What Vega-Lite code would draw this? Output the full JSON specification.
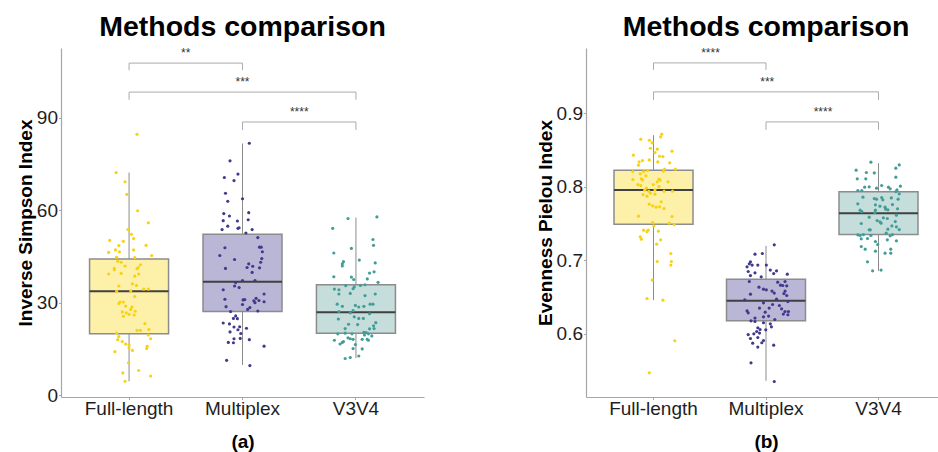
{
"$schema": "https://vega.github.io/schema/vega-lite/v6.json",
"padding": {"left": 16, "top": 12, "right": 0, "bottom": 0},
"spacing": 112,
"config": {
 "font": "Liberation Sans",
 "view": {"stroke": null},
 "axis": {"grid": false, "domainColor": "#a6a6a6", "domainWidth": 1.2, "tickColor": "#a6a6a6", "tickSize": 2.5, "labelFontSize": 19, "labelColor": "#1e1e1e", "labelFont": "Liberation Sans", "titleFont": "Liberation Sans", "titleFontSize": 19, "titleFontWeight": "bold", "titleColor": "#000000", "labelPadding": 1},
 "axisX": {"labelAngle": 0, "titlePadding": 14, "labelPadding": 0},
 "axisY": {"titlePadding": 1},
 "title": {"fontSize": 28.5, "fontWeight": "bold", "font": "Liberation Sans", "color": "#000000", "anchor": "middle", "offset": 5.5, "baseline": "alphabetic"}
},
"datasets": {
 "invbox": [
  {"m": "Full-length", "lo": 4.6, "q1": 20.0, "med": 33.8, "q3": 44.3, "hi": 72.3},
  {"m": "Multiplex", "lo": 9.9, "q1": 27.2, "med": 36.9, "q3": 52.3, "hi": 81.7},
  {"m": "V3V4", "lo": 12.1, "q1": 20.2, "med": 27.0, "q3": 35.9, "hi": 57.7}
 ],
 "evenbox": [
  {"m": "Full-length", "lo": 0.6458, "q1": 0.7492, "med": 0.7959, "q3": 0.8227, "hi": 0.8703},
  {"m": "Multiplex", "lo": 0.536, "q1": 0.6177, "med": 0.6449, "q3": 0.6744, "hi": 0.7197},
  {"m": "V3V4", "lo": 0.6857, "q1": 0.7351, "med": 0.7642, "q3": 0.7932, "hi": 0.8322}
 ],
 "invbr": [
  {"g1": "Full-length", "g2": "Multiplex", "yt": 107.8, "yb": 105.5, "lab": "**", "mid": 0.5},
  {"g1": "Full-length", "g2": "V3V4", "yt": 98.4, "yb": 95.9, "lab": "***", "mid": 1.0},
  {"g1": "Multiplex", "g2": "V3V4", "yt": 88.7, "yb": 86.1, "lab": "****", "mid": 0.5}
 ],
 "evenbr": [
  {"g1": "Full-length", "g2": "Multiplex", "yt": 0.9687, "yb": 0.9592, "lab": "****", "mid": 0.5},
  {"g1": "Full-length", "g2": "V3V4", "yt": 0.9293, "yb": 0.9184, "lab": "***", "mid": 1.0},
  {"g1": "Multiplex", "g2": "V3V4", "yt": 0.8884, "yb": 0.8776, "lab": "****", "mid": 0.5}
 ],
 "inv": [
  {"m":"Full-length","v":84.7,"j":0.07},{"m":"Full-length","v":72.3,"j":-0.114},{"m":"Full-length","v":69.3,"j":-0.035},{"m":"Full-length","v":65.2,"j":-0.02},{"m":"Full-length","v":59.9,"j":0.076},{"m":"Full-length","v":56.0,"j":0.17},{"m":"Full-length","v":53.8,"j":-0.01},{"m":"Full-length","v":52.3,"j":0.02},{"m":"Full-length","v":50.9,"j":0.04},{"m":"Full-length","v":50.3,"j":-0.17},{"m":"Full-length","v":50.0,"j":-0.05},{"m":"Full-length","v":48.6,"j":-0.09},{"m":"Full-length","v":48.7,"j":0.15},{"m":"Full-length","v":47.2,"j":-0.12},{"m":"Full-length","v":46.6,"j":-0.085},{"m":"Full-length","v":47.2,"j":0.04},{"m":"Full-length","v":46.4,"j":-0.18},{"m":"Full-length","v":45.4,"j":0.2},{"m":"Full-length","v":44.8,"j":-0.11},{"m":"Full-length","v":44.7,"j":0.05},{"m":"Full-length","v":43.5,"j":-0.1},{"m":"Full-length","v":43.2,"j":-0.07},{"m":"Full-length","v":41.2,"j":-0.13},{"m":"Full-length","v":42.0,"j":-0.035},{"m":"Full-length","v":42.4,"j":0.1},{"m":"Full-length","v":41.5,"j":0.08},{"m":"Full-length","v":41.1,"j":0.07},{"m":"Full-length","v":40.7,"j":-0.13},{"m":"Full-length","v":39.4,"j":-0.18},{"m":"Full-length","v":39.6,"j":-0.07},{"m":"Full-length","v":39.4,"j":0.085},{"m":"Full-length","v":38.7,"j":0.05},{"m":"Full-length","v":36.2,"j":0.03},{"m":"Full-length","v":35.7,"j":0.065},{"m":"Full-length","v":35.5,"j":-0.09},{"m":"Full-length","v":34.5,"j":0.13},{"m":"Full-length","v":34.5,"j":0.17},{"m":"Full-length","v":33.8,"j":-0.11},{"m":"Full-length","v":33.9,"j":0.015},{"m":"Full-length","v":32.1,"j":0.05},{"m":"Full-length","v":30.3,"j":-0.08},{"m":"Full-length","v":29.8,"j":-0.09},{"m":"Full-length","v":30.3,"j":-0.05},{"m":"Full-length","v":29.0,"j":-0.03},{"m":"Full-length","v":28.7,"j":0.025},{"m":"Full-length","v":27.9,"j":0.015},{"m":"Full-length","v":27.3,"j":0.055},{"m":"Full-length","v":27.1,"j":-0.06},{"m":"Full-length","v":26.8,"j":-0.025},{"m":"Full-length","v":26.3,"j":0},{"m":"Full-length","v":26.1,"j":0.045},{"m":"Full-length","v":25.7,"j":-0.05},{"m":"Full-length","v":23.3,"j":0.14},{"m":"Full-length","v":21.1,"j":0.07},{"m":"Full-length","v":21.1,"j":0.1},{"m":"Full-length","v":21.4,"j":0.175},{"m":"Full-length","v":20.2,"j":-0.11},{"m":"Full-length","v":19.1,"j":-0.09},{"m":"Full-length","v":19.6,"j":0.17},{"m":"Full-length","v":18.1,"j":-0.1},{"m":"Full-length","v":18.4,"j":0.19},{"m":"Full-length","v":17.5,"j":-0.06},{"m":"Full-length","v":16.7,"j":-0.03},{"m":"Full-length","v":16.3,"j":0},{"m":"Full-length","v":15.4,"j":0},{"m":"Full-length","v":15.9,"j":0.16},{"m":"Full-length","v":15.2,"j":0.155},{"m":"Full-length","v":14.6,"j":0.03},{"m":"Full-length","v":14.2,"j":-0.125},{"m":"Full-length","v":10.6,"j":-0.005},{"m":"Full-length","v":7.3,"j":-0.055},{"m":"Full-length","v":8.1,"j":0.085},{"m":"Full-length","v":6.3,"j":0.19},{"m":"Full-length","v":4.6,"j":-0.035},
  {"m":"Multiplex","v":81.8,"j":0.06},{"m":"Multiplex","v":76.1,"j":-0.11},{"m":"Multiplex","v":70.7,"j":-0.16},{"m":"Multiplex","v":71.8,"j":-0.04},{"m":"Multiplex","v":69.7,"j":-0.075},{"m":"Multiplex","v":65.6,"j":-0.15},{"m":"Multiplex","v":63.8,"j":0},{"m":"Multiplex","v":63.0,"j":-0.13},{"m":"Multiplex","v":59.0,"j":-0.165},{"m":"Multiplex","v":59.3,"j":0.055},{"m":"Multiplex","v":58.2,"j":-0.115},{"m":"Multiplex","v":56.7,"j":-0.17},{"m":"Multiplex","v":56.6,"j":-0.045},{"m":"Multiplex","v":57.0,"j":0.05},{"m":"Multiplex","v":54.9,"j":-0.13},{"m":"Multiplex","v":53.8,"j":-0.18},{"m":"Multiplex","v":54.2,"j":-0.04},{"m":"Multiplex","v":54.4,"j":-0.03},{"m":"Multiplex","v":53.8,"j":0.085},{"m":"Multiplex","v":52.7,"j":0.03},{"m":"Multiplex","v":51.2,"j":0.135},{"m":"Multiplex","v":48.1,"j":0.15},{"m":"Multiplex","v":48.1,"j":0.165},{"m":"Multiplex","v":47.9,"j":-0.155},{"m":"Multiplex","v":46.6,"j":0.175},{"m":"Multiplex","v":45.4,"j":-0.2},{"m":"Multiplex","v":44.4,"j":0.17},{"m":"Multiplex","v":44.1,"j":-0.07},{"m":"Multiplex","v":42.7,"j":0.055},{"m":"Multiplex","v":43.2,"j":0.16},{"m":"Multiplex","v":41.9,"j":0.09},{"m":"Multiplex","v":41.5,"j":0.04},{"m":"Multiplex","v":41.4,"j":0.15},{"m":"Multiplex","v":41.2,"j":-0.15},{"m":"Multiplex","v":39.9,"j":0.085},{"m":"Multiplex","v":37.3,"j":0},{"m":"Multiplex","v":37.3,"j":0.11},{"m":"Multiplex","v":36.6,"j":-0.06},{"m":"Multiplex","v":35.5,"j":-0.07},{"m":"Multiplex","v":35.0,"j":-0.03},{"m":"Multiplex","v":34.3,"j":-0.17},{"m":"Multiplex","v":32.9,"j":0.19},{"m":"Multiplex","v":31.2,"j":-0.155},{"m":"Multiplex","v":31.0,"j":0.005},{"m":"Multiplex","v":31.1,"j":0.02},{"m":"Multiplex","v":31.5,"j":0.12},{"m":"Multiplex","v":30.7,"j":0.1},{"m":"Multiplex","v":30.8,"j":0.145},{"m":"Multiplex","v":30.4,"j":0.19},{"m":"Multiplex","v":30.1,"j":0.11},{"m":"Multiplex","v":29.5,"j":0},{"m":"Multiplex","v":28.5,"j":0.065},{"m":"Multiplex","v":28.8,"j":-0.145},{"m":"Multiplex","v":27.9,"j":0.045},{"m":"Multiplex","v":27.4,"j":0.135},{"m":"Multiplex","v":27.2,"j":-0.105},{"m":"Multiplex","v":25.8,"j":-0.06},{"m":"Multiplex","v":25.0,"j":-0.08},{"m":"Multiplex","v":24.9,"j":-0.045},{"m":"Multiplex","v":23.5,"j":-0.17},{"m":"Multiplex","v":23.2,"j":-0.115},{"m":"Multiplex","v":22.2,"j":-0.075},{"m":"Multiplex","v":22.3,"j":-0.025},{"m":"Multiplex","v":21.8,"j":0.035},{"m":"Multiplex","v":21.3,"j":-0.04},{"m":"Multiplex","v":20.6,"j":-0.11},{"m":"Multiplex","v":20.1,"j":-0.015},{"m":"Multiplex","v":18.4,"j":-0.075},{"m":"Multiplex","v":18.5,"j":-0.02},{"m":"Multiplex","v":18.1,"j":0.06},{"m":"Multiplex","v":17.2,"j":-0.125},{"m":"Multiplex","v":17.1,"j":-0.08},{"m":"Multiplex","v":16.0,"j":0.19},{"m":"Multiplex","v":11.4,"j":-0.14},{"m":"Multiplex","v":9.7,"j":0.065},
  {"m":"V3V4","v":57.4,"j":-0.07},{"m":"V3V4","v":57.9,"j":0.185},{"m":"V3V4","v":54.2,"j":-0.205},{"m":"V3V4","v":50.6,"j":0.15},{"m":"V3V4","v":48.7,"j":0.155},{"m":"V3V4","v":47.7,"j":-0.04},{"m":"V3V4","v":46.2,"j":-0.195},{"m":"V3V4","v":43.9,"j":0.03},{"m":"V3V4","v":43.4,"j":-0.11},{"m":"V3V4","v":42.7,"j":-0.12},{"m":"V3V4","v":42.0,"j":-0.12},{"m":"V3V4","v":43.0,"j":0.17},{"m":"V3V4","v":40.1,"j":0.16},{"m":"V3V4","v":39.7,"j":0.12},{"m":"V3V4","v":38.5,"j":-0.195},{"m":"V3V4","v":38.4,"j":-0.04},{"m":"V3V4","v":37.6,"j":-0.02},{"m":"V3V4","v":37.8,"j":0.1},{"m":"V3V4","v":36.7,"j":0.195},{"m":"V3V4","v":35.6,"j":-0.09},{"m":"V3V4","v":35.2,"j":-0.015},{"m":"V3V4","v":35.7,"j":0.04},{"m":"V3V4","v":35.9,"j":0.08},{"m":"V3V4","v":34.5,"j":-0.19},{"m":"V3V4","v":34.3,"j":-0.15},{"m":"V3V4","v":34.6,"j":-0.025},{"m":"V3V4","v":32.9,"j":-0.15},{"m":"V3V4","v":33.1,"j":-0.05},{"m":"V3V4","v":32.9,"j":0.17},{"m":"V3V4","v":32.4,"j":0.08},{"m":"V3V4","v":29.6,"j":-0.165},{"m":"V3V4","v":28.9,"j":-0.12},{"m":"V3V4","v":29.2,"j":-0.005},{"m":"V3V4","v":29.6,"j":0.125},{"m":"V3V4","v":29.6,"j":0.15},{"m":"V3V4","v":28.9,"j":0.07},{"m":"V3V4","v":28.7,"j":0.025},{"m":"V3V4","v":27.5,"j":-0.025},{"m":"V3V4","v":27.2,"j":-0.15},{"m":"V3V4","v":26.5,"j":0.12},{"m":"V3V4","v":26.8,"j":-0.05},{"m":"V3V4","v":25.5,"j":-0.015},{"m":"V3V4","v":25.0,"j":0.025},{"m":"V3V4","v":25.0,"j":0.065},{"m":"V3V4","v":24.8,"j":-0.155},{"m":"V3V4","v":23.6,"j":0.175},{"m":"V3V4","v":23.1,"j":-0.065},{"m":"V3V4","v":23.0,"j":0.015},{"m":"V3V4","v":22.6,"j":0.155},{"m":"V3V4","v":21.7,"j":-0.095},{"m":"V3V4","v":21.6,"j":0.12},{"m":"V3V4","v":21.7,"j":0.16},{"m":"V3V4","v":20.5,"j":0.07},{"m":"V3V4","v":20.4,"j":0.09},{"m":"V3V4","v":20.0,"j":0.11},{"m":"V3V4","v":20.2,"j":-0.095},{"m":"V3V4","v":20.0,"j":-0.035},{"m":"V3V4","v":20.0,"j":-0.16},{"m":"V3V4","v":19.6,"j":0.075},{"m":"V3V4","v":18.7,"j":-0.07},{"m":"V3V4","v":19.3,"j":0.14},{"m":"V3V4","v":18.4,"j":-0.05},{"m":"V3V4","v":18.2,"j":-0.025},{"m":"V3V4","v":17.9,"j":-0.19},{"m":"V3V4","v":17.9,"j":0.11},{"m":"V3V4","v":18.2,"j":0.055},{"m":"V3V4","v":17.5,"j":-0.11},{"m":"V3V4","v":17.2,"j":-0.12},{"m":"V3V4","v":16.7,"j":-0.14},{"m":"V3V4","v":16.5,"j":-0.005},{"m":"V3V4","v":18.2,"j":0.1},{"m":"V3V4","v":15.2,"j":-0.025},{"m":"V3V4","v":15.1,"j":0.055},{"m":"V3V4","v":12.8,"j":0.025},{"m":"V3V4","v":12.3,"j":-0.05},{"m":"V3V4","v":12.0,"j":-0.095}
 ],
 "even": [
  {"m":"Full-length","v":0.8717,"j":0.07},{"m":"Full-length","v":0.868,"j":0.06},{"m":"Full-length","v":0.8649,"j":-0.115},{"m":"Full-length","v":0.8635,"j":-0.04},{"m":"Full-length","v":0.8599,"j":-0.015},{"m":"Full-length","v":0.8526,"j":-0.03},{"m":"Full-length","v":0.8513,"j":0.03},{"m":"Full-length","v":0.8486,"j":0.16},{"m":"Full-length","v":0.8467,"j":0.01},{"m":"Full-length","v":0.8431,"j":-0.18},{"m":"Full-length","v":0.8417,"j":0.05},{"m":"Full-length","v":0.8412,"j":0.08},{"m":"Full-length","v":0.8358,"j":-0.1},{"m":"Full-length","v":0.8367,"j":-0.04},{"m":"Full-length","v":0.834,"j":-0.13},{"m":"Full-length","v":0.8295,"j":-0.135},{"m":"Full-length","v":0.834,"j":0.035},{"m":"Full-length","v":0.8327,"j":0.14},{"m":"Full-length","v":0.8241,"j":0.095},{"m":"Full-length","v":0.8241,"j":0.19},{"m":"Full-length","v":0.8222,"j":-0.055},{"m":"Full-length","v":0.8209,"j":-0.185},{"m":"Full-length","v":0.8209,"j":-0.09},{"m":"Full-length","v":0.8177,"j":-0.12},{"m":"Full-length","v":0.8214,"j":0.085},{"m":"Full-length","v":0.815,"j":-0.07},{"m":"Full-length","v":0.8109,"j":-0.11},{"m":"Full-length","v":0.8095,"j":-0.1},{"m":"Full-length","v":0.8099,"j":-0.185},{"m":"Full-length","v":0.8105,"j":0.045},{"m":"Full-length","v":0.8091,"j":0.055},{"m":"Full-length","v":0.8068,"j":0.03},{"m":"Full-length","v":0.8068,"j":0.125},{"m":"Full-length","v":0.8031,"j":-0.14},{"m":"Full-length","v":0.8018,"j":-0.115},{"m":"Full-length","v":0.7982,"j":-0.065},{"m":"Full-length","v":0.8004,"j":0.045},{"m":"Full-length","v":0.8031,"j":-0.005},{"m":"Full-length","v":0.7955,"j":-0.08},{"m":"Full-length","v":0.7941,"j":-0.045},{"m":"Full-length","v":0.7959,"j":0.01},{"m":"Full-length","v":0.7941,"j":0.09},{"m":"Full-length","v":0.7941,"j":0.165},{"m":"Full-length","v":0.7895,"j":-0.095},{"m":"Full-length","v":0.7873,"j":-0.06},{"m":"Full-length","v":0.7901,"j":0.01},{"m":"Full-length","v":0.7914,"j":-0.03},{"m":"Full-length","v":0.7796,"j":0.065},{"m":"Full-length","v":0.7765,"j":-0.04},{"m":"Full-length","v":0.7741,"j":-0.01},{"m":"Full-length","v":0.7724,"j":0.02},{"m":"Full-length","v":0.7728,"j":0.05},{"m":"Full-length","v":0.7705,"j":0.09},{"m":"Full-length","v":0.7601,"j":-0.135},{"m":"Full-length","v":0.7596,"j":0.16},{"m":"Full-length","v":0.7514,"j":-0.01},{"m":"Full-length","v":0.7506,"j":0.135},{"m":"Full-length","v":0.7487,"j":0.18},{"m":"Full-length","v":0.7469,"j":0},{"m":"Full-length","v":0.7411,"j":-0.09},{"m":"Full-length","v":0.7411,"j":-0.05},{"m":"Full-length","v":0.7388,"j":-0.06},{"m":"Full-length","v":0.7397,"j":0.04},{"m":"Full-length","v":0.732,"j":-0.12},{"m":"Full-length","v":0.7288,"j":-0.11},{"m":"Full-length","v":0.7279,"j":0.06},{"m":"Full-length","v":0.722,"j":0.025},{"m":"Full-length","v":0.7093,"j":0.15},{"m":"Full-length","v":0.6984,"j":0.155},{"m":"Full-length","v":0.6984,"j":0.03},{"m":"Full-length","v":0.6935,"j":0.15},{"m":"Full-length","v":0.6731,"j":-0.015},{"m":"Full-length","v":0.648,"j":-0.06},{"m":"Full-length","v":0.6458,"j":0.08},{"m":"Full-length","v":0.5905,"j":0.185},{"m":"Full-length","v":0.5469,"j":-0.04},
  {"m":"Multiplex","v":0.7211,"j":0.07},{"m":"Multiplex","v":0.7084,"j":-0.1},{"m":"Multiplex","v":0.7093,"j":-0.035},{"m":"Multiplex","v":0.698,"j":-0.14},{"m":"Multiplex","v":0.6952,"j":-0.15},{"m":"Multiplex","v":0.6935,"j":-0.125},{"m":"Multiplex","v":0.6912,"j":-0.17},{"m":"Multiplex","v":0.6935,"j":-0.075},{"m":"Multiplex","v":0.6935,"j":0},{"m":"Multiplex","v":0.6867,"j":0.035},{"m":"Multiplex","v":0.6857,"j":0.09},{"m":"Multiplex","v":0.6848,"j":-0.16},{"m":"Multiplex","v":0.683,"j":-0.1},{"m":"Multiplex","v":0.682,"j":0.065},{"m":"Multiplex","v":0.6812,"j":0.185},{"m":"Multiplex","v":0.6793,"j":-0.14},{"m":"Multiplex","v":0.6776,"j":-0.045},{"m":"Multiplex","v":0.6712,"j":-0.15},{"m":"Multiplex","v":0.6703,"j":0.1},{"m":"Multiplex","v":0.6712,"j":0.165},{"m":"Multiplex","v":0.6662,"j":0.125},{"m":"Multiplex","v":0.6657,"j":0.145},{"m":"Multiplex","v":0.6653,"j":0.18},{"m":"Multiplex","v":0.6635,"j":-0.065},{"m":"Multiplex","v":0.6608,"j":-0.025},{"m":"Multiplex","v":0.6599,"j":0},{"m":"Multiplex","v":0.6581,"j":0.05},{"m":"Multiplex","v":0.6581,"j":0.165},{"m":"Multiplex","v":0.6554,"j":0.07},{"m":"Multiplex","v":0.6548,"j":0.155},{"m":"Multiplex","v":0.654,"j":-0.14},{"m":"Multiplex","v":0.6521,"j":0.18},{"m":"Multiplex","v":0.6463,"j":-0.19},{"m":"Multiplex","v":0.6472,"j":0.09},{"m":"Multiplex","v":0.6439,"j":0.19},{"m":"Multiplex","v":0.6422,"j":-0.025},{"m":"Multiplex","v":0.6399,"j":0.055},{"m":"Multiplex","v":0.6385,"j":0.115},{"m":"Multiplex","v":0.635,"j":-0.06},{"m":"Multiplex","v":0.634,"j":0.135},{"m":"Multiplex","v":0.635,"j":0.025},{"m":"Multiplex","v":0.6313,"j":-0.17},{"m":"Multiplex","v":0.6286,"j":-0.16},{"m":"Multiplex","v":0.6295,"j":-0.01},{"m":"Multiplex","v":0.6303,"j":0.165},{"m":"Multiplex","v":0.6303,"j":0.195},{"m":"Multiplex","v":0.6268,"j":0.15},{"m":"Multiplex","v":0.6259,"j":0.19},{"m":"Multiplex","v":0.6241,"j":0.02},{"m":"Multiplex","v":0.6231,"j":-0.025},{"m":"Multiplex","v":0.6177,"j":-0.135},{"m":"Multiplex","v":0.6214,"j":-0.1},{"m":"Multiplex","v":0.6167,"j":-0.1},{"m":"Multiplex","v":0.6195,"j":0.075},{"m":"Multiplex","v":0.615,"j":-0.025},{"m":"Multiplex","v":0.6136,"j":0.035},{"m":"Multiplex","v":0.6095,"j":0.045},{"m":"Multiplex","v":0.6082,"j":-0.075},{"m":"Multiplex","v":0.6059,"j":-0.055},{"m":"Multiplex","v":0.6054,"j":-0.005},{"m":"Multiplex","v":0.6031,"j":-0.085},{"m":"Multiplex","v":0.6,"j":-0.11},{"m":"Multiplex","v":0.599,"j":-0.16},{"m":"Multiplex","v":0.601,"j":-0.06},{"m":"Multiplex","v":0.595,"j":-0.075},{"m":"Multiplex","v":0.5936,"j":-0.14},{"m":"Multiplex","v":0.5909,"j":-0.025},{"m":"Multiplex","v":0.5878,"j":-0.04},{"m":"Multiplex","v":0.5873,"j":-0.12},{"m":"Multiplex","v":0.5846,"j":0.065},{"m":"Multiplex","v":0.5819,"j":-0.075},{"m":"Multiplex","v":0.5605,"j":-0.135},{"m":"Multiplex","v":0.5351,"j":0.07},
  {"m":"V3V4","v":0.8336,"j":-0.07},{"m":"V3V4","v":0.8299,"j":0.18},{"m":"V3V4","v":0.8254,"j":0.15},{"m":"V3V4","v":0.8227,"j":-0.2},{"m":"V3V4","v":0.8195,"j":-0.11},{"m":"V3V4","v":0.819,"j":-0.04},{"m":"V3V4","v":0.8132,"j":0.15},{"m":"V3V4","v":0.8109,"j":-0.19},{"m":"V3V4","v":0.8109,"j":-0.115},{"m":"V3V4","v":0.7996,"j":-0.125},{"m":"V3V4","v":0.8018,"j":0.025},{"m":"V3V4","v":0.7996,"j":0.085},{"m":"V3V4","v":0.8,"j":-0.085},{"m":"V3V4","v":0.7982,"j":-0.02},{"m":"V3V4","v":0.7973,"j":0.1},{"m":"V3V4","v":0.801,"j":0.19},{"m":"V3V4","v":0.7959,"j":0.16},{"m":"V3V4","v":0.7936,"j":0.15},{"m":"V3V4","v":0.795,"j":-0.15},{"m":"V3V4","v":0.795,"j":-0.185},{"m":"V3V4","v":0.7905,"j":0.18},{"m":"V3V4","v":0.786,"j":-0.14},{"m":"V3V4","v":0.785,"j":0.11},{"m":"V3V4","v":0.7841,"j":-0.04},{"m":"V3V4","v":0.7833,"j":-0.02},{"m":"V3V4","v":0.7854,"j":0.025},{"m":"V3V4","v":0.7823,"j":0.035},{"m":"V3V4","v":0.7833,"j":0.17},{"m":"V3V4","v":0.7769,"j":-0.185},{"m":"V3V4","v":0.7755,"j":-0.03},{"m":"V3V4","v":0.7737,"j":0.01},{"m":"V3V4","v":0.7759,"j":0.12},{"m":"V3V4","v":0.7724,"j":0.055},{"m":"V3V4","v":0.7683,"j":-0.165},{"m":"V3V4","v":0.7664,"j":-0.15},{"m":"V3V4","v":0.7683,"j":-0.03},{"m":"V3V4","v":0.7697,"j":0.06},{"m":"V3V4","v":0.7687,"j":0.08},{"m":"V3V4","v":0.7701,"j":0.165},{"m":"V3V4","v":0.765,"j":-0.035},{"m":"V3V4","v":0.7588,"j":-0.085},{"m":"V3V4","v":0.7578,"j":0.04},{"m":"V3V4","v":0.7569,"j":0.075},{"m":"V3V4","v":0.7615,"j":0.155},{"m":"V3V4","v":0.7541,"j":-0.015},{"m":"V3V4","v":0.7524,"j":0.01},{"m":"V3V4","v":0.7506,"j":0.02},{"m":"V3V4","v":0.7528,"j":0.145},{"m":"V3V4","v":0.7501,"j":-0.155},{"m":"V3V4","v":0.7469,"j":0.115},{"m":"V3V4","v":0.7415,"j":-0.085},{"m":"V3V4","v":0.7415,"j":-0.075},{"m":"V3V4","v":0.7456,"j":0.155},{"m":"V3V4","v":0.7424,"j":0.08},{"m":"V3V4","v":0.7419,"j":0.18},{"m":"V3V4","v":0.737,"j":0.065},{"m":"V3V4","v":0.7347,"j":-0.185},{"m":"V3V4","v":0.7338,"j":-0.165},{"m":"V3V4","v":0.7351,"j":-0.135},{"m":"V3V4","v":0.7338,"j":-0.07},{"m":"V3V4","v":0.7333,"j":0.1},{"m":"V3V4","v":0.7351,"j":0.12},{"m":"V3V4","v":0.7297,"j":-0.1},{"m":"V3V4","v":0.7293,"j":-0.155},{"m":"V3V4","v":0.7256,"j":-0.03},{"m":"V3V4","v":0.7279,"j":0.075},{"m":"V3V4","v":0.7215,"j":-0.01},{"m":"V3V4","v":0.7265,"j":0.155},{"m":"V3V4","v":0.7188,"j":-0.155},{"m":"V3V4","v":0.7152,"j":-0.12},{"m":"V3V4","v":0.7125,"j":-0.03},{"m":"V3V4","v":0.7152,"j":0.105},{"m":"V3V4","v":0.7098,"j":0.105},{"m":"V3V4","v":0.7098,"j":0.055},{"m":"V3V4","v":0.698,"j":-0.1},{"m":"V3V4","v":0.6857,"j":-0.055},{"m":"V3V4","v":0.6867,"j":0.02}
 ]
},
"hconcat": [
 {
  "width": 363, "height": 349,
  "title": "Methods comparison",
  "layer": [
   {"data": {"name": "invbox"}, "mark": {"type": "rule", "color": "#8c8c8c", "strokeWidth": 1},
    "encoding": {
     "x": {"field": "m", "type": "nominal", "title": "(a)", "scale": {"domain": ["Full-length", "Multiplex", "V3V4"], "paddingInner": 0.3, "paddingOuter": 0.25}},
     "y": {"field": "lo", "type": "quantitative", "title": "Inverse Simpson Index", "scale": {"domain": [-0.5, 112.7], "nice": false, "zero": false}, "axis": {"values": [0, 30, 60, 90]}},
     "y2": {"field": "hi"}}},
   {"data": {"name": "invbox"}, "mark": {"type": "bar", "width": 79, "stroke": "#8c8c8c", "strokeWidth": 1.5},
    "encoding": {
     "x": {"field": "m", "type": "nominal", "title": "(a)", "scale": {"domain": ["Full-length", "Multiplex", "V3V4"], "paddingInner": 0.3, "paddingOuter": 0.25}},
     "y": {"field": "q1", "type": "quantitative", "title": "Inverse Simpson Index", "scale": {"domain": [-0.5, 112.7], "nice": false, "zero": false}},
     "y2": {"field": "q3"},
     "fill": {"field": "m", "type": "nominal", "scale": {"domain": ["Full-length", "Multiplex", "V3V4"], "range": ["#FDF0A8", "#B9B6D6", "#C5DDDB"]}, "legend": null}}},
   {"data": {"name": "invbox"}, "mark": {"type": "bar", "width": 79, "fill": "transparent", "stroke": "#404040", "strokeWidth": 2},
    "encoding": {
     "x": {"field": "m", "type": "nominal", "title": "(a)", "scale": {"domain": ["Full-length", "Multiplex", "V3V4"], "paddingInner": 0.3, "paddingOuter": 0.25}},
     "y": {"field": "med", "type": "quantitative", "title": "Inverse Simpson Index", "scale": {"domain": [-0.5, 112.7], "nice": false, "zero": false}},
     "y2": {"field": "med"}}},
   {"data": {"name": "inv"}, "mark": {"type": "circle", "size": 10, "opacity": 1},
    "encoding": {
     "x": {"field": "m", "type": "nominal", "title": "(a)", "scale": {"domain": ["Full-length", "Multiplex", "V3V4"], "paddingInner": 0.3, "paddingOuter": 0.25}},
     "xOffset": {"field": "j", "type": "quantitative", "scale": {"domain": [-0.35, 0.35]}},
     "y": {"field": "v", "type": "quantitative", "title": "Inverse Simpson Index", "scale": {"domain": [-0.5, 112.7], "nice": false, "zero": false}},
     "color": {"field": "m", "type": "nominal", "scale": {"domain": ["Full-length", "Multiplex", "V3V4"], "range": ["#F8D210", "#3F3A8C", "#429D98"]}, "legend": null}}},
   {"data": {"name": "invbr"}, "mark": {"type": "rule", "color": "#ababab", "strokeWidth": 1},
    "encoding": {
     "x": {"field": "g1", "type": "nominal", "title": "(a)", "bandPosition": 0.5, "scale": {"domain": ["Full-length", "Multiplex", "V3V4"], "paddingInner": 0.3, "paddingOuter": 0.25}},
     "x2": {"field": "g2", "bandPosition": 0.5},
     "y": {"field": "yt", "type": "quantitative", "title": "Inverse Simpson Index", "scale": {"domain": [-0.5, 112.7], "nice": false, "zero": false}}}},
   {"data": {"name": "invbr"}, "mark": {"type": "rule", "color": "#ababab", "strokeWidth": 1},
    "encoding": {
     "x": {"field": "g1", "type": "nominal", "title": "(a)", "scale": {"domain": ["Full-length", "Multiplex", "V3V4"], "paddingInner": 0.3, "paddingOuter": 0.25}},
     "y": {"field": "yt", "type": "quantitative", "title": "Inverse Simpson Index", "scale": {"domain": [-0.5, 112.7], "nice": false, "zero": false}},
     "y2": {"field": "yb"}}},
   {"data": {"name": "invbr"}, "mark": {"type": "rule", "color": "#ababab", "strokeWidth": 1},
    "encoding": {
     "x": {"field": "g2", "type": "nominal", "title": "(a)", "scale": {"domain": ["Full-length", "Multiplex", "V3V4"], "paddingInner": 0.3, "paddingOuter": 0.25}},
     "y": {"field": "yt", "type": "quantitative", "title": "Inverse Simpson Index", "scale": {"domain": [-0.5, 112.7], "nice": false, "zero": false}},
     "y2": {"field": "yb"}}},
   {"data": {"name": "invbr"}, "mark": {"type": "text", "color": "#333333", "fontSize": 12, "baseline": "alphabetic", "dy": -6},
    "encoding": {
     "x": {"field": "g1", "type": "nominal", "title": "(a)", "scale": {"domain": ["Full-length", "Multiplex", "V3V4"], "paddingInner": 0.3, "paddingOuter": 0.25}},
     "xOffset": {"field": "mid", "type": "quantitative", "scale": {"domain": [-0.35, 0.35]}},
     "y": {"field": "yt", "type": "quantitative", "title": "Inverse Simpson Index", "scale": {"domain": [-0.5, 112.7], "nice": false, "zero": false}},
     "text": {"field": "lab"}}}
  ]
 },
 {
  "width": 360, "height": 349,
  "title": "Methods comparison",
  "layer": [
   {"data": {"name": "evenbox"}, "mark": {"type": "rule", "color": "#8c8c8c", "strokeWidth": 1},
    "encoding": {
     "x": {"field": "m", "type": "nominal", "title": "(b)", "scale": {"domain": ["Full-length", "Multiplex", "V3V4"], "paddingInner": 0.3, "paddingOuter": 0.25}},
     "y": {"field": "lo", "type": "quantitative", "title": "Evenness Pielou Index", "scale": {"domain": [0.514, 0.989], "nice": false, "zero": false}, "axis": {"values": [0.6, 0.7, 0.8, 0.9], "format": ".1f"}},
     "y2": {"field": "hi"}}},
   {"data": {"name": "evenbox"}, "mark": {"type": "bar", "width": 79, "stroke": "#8c8c8c", "strokeWidth": 1.5},
    "encoding": {
     "x": {"field": "m", "type": "nominal", "title": "(b)", "scale": {"domain": ["Full-length", "Multiplex", "V3V4"], "paddingInner": 0.3, "paddingOuter": 0.25}},
     "y": {"field": "q1", "type": "quantitative", "title": "Evenness Pielou Index", "scale": {"domain": [0.514, 0.989], "nice": false, "zero": false}},
     "y2": {"field": "q3"},
     "fill": {"field": "m", "type": "nominal", "scale": {"domain": ["Full-length", "Multiplex", "V3V4"], "range": ["#FDF0A8", "#B9B6D6", "#C5DDDB"]}, "legend": null}}},
   {"data": {"name": "evenbox"}, "mark": {"type": "bar", "width": 79, "fill": "transparent", "stroke": "#404040", "strokeWidth": 2},
    "encoding": {
     "x": {"field": "m", "type": "nominal", "title": "(b)", "scale": {"domain": ["Full-length", "Multiplex", "V3V4"], "paddingInner": 0.3, "paddingOuter": 0.25}},
     "y": {"field": "med", "type": "quantitative", "title": "Evenness Pielou Index", "scale": {"domain": [0.514, 0.989], "nice": false, "zero": false}},
     "y2": {"field": "med"}}},
   {"data": {"name": "even"}, "mark": {"type": "circle", "size": 10, "opacity": 1},
    "encoding": {
     "x": {"field": "m", "type": "nominal", "title": "(b)", "scale": {"domain": ["Full-length", "Multiplex", "V3V4"], "paddingInner": 0.3, "paddingOuter": 0.25}},
     "xOffset": {"field": "j", "type": "quantitative", "scale": {"domain": [-0.35, 0.35]}},
     "y": {"field": "v", "type": "quantitative", "title": "Evenness Pielou Index", "scale": {"domain": [0.514, 0.989], "nice": false, "zero": false}},
     "color": {"field": "m", "type": "nominal", "scale": {"domain": ["Full-length", "Multiplex", "V3V4"], "range": ["#F8D210", "#3F3A8C", "#429D98"]}, "legend": null}}},
   {"data": {"name": "evenbr"}, "mark": {"type": "rule", "color": "#ababab", "strokeWidth": 1},
    "encoding": {
     "x": {"field": "g1", "type": "nominal", "title": "(b)", "bandPosition": 0.5, "scale": {"domain": ["Full-length", "Multiplex", "V3V4"], "paddingInner": 0.3, "paddingOuter": 0.25}},
     "x2": {"field": "g2", "bandPosition": 0.5},
     "y": {"field": "yt", "type": "quantitative", "title": "Evenness Pielou Index", "scale": {"domain": [0.514, 0.989], "nice": false, "zero": false}}}},
   {"data": {"name": "evenbr"}, "mark": {"type": "rule", "color": "#ababab", "strokeWidth": 1},
    "encoding": {
     "x": {"field": "g1", "type": "nominal", "title": "(b)", "scale": {"domain": ["Full-length", "Multiplex", "V3V4"], "paddingInner": 0.3, "paddingOuter": 0.25}},
     "y": {"field": "yt", "type": "quantitative", "title": "Evenness Pielou Index", "scale": {"domain": [0.514, 0.989], "nice": false, "zero": false}},
     "y2": {"field": "yb"}}},
   {"data": {"name": "evenbr"}, "mark": {"type": "rule", "color": "#ababab", "strokeWidth": 1},
    "encoding": {
     "x": {"field": "g2", "type": "nominal", "title": "(b)", "scale": {"domain": ["Full-length", "Multiplex", "V3V4"], "paddingInner": 0.3, "paddingOuter": 0.25}},
     "y": {"field": "yt", "type": "quantitative", "title": "Evenness Pielou Index", "scale": {"domain": [0.514, 0.989], "nice": false, "zero": false}},
     "y2": {"field": "yb"}}},
   {"data": {"name": "evenbr"}, "mark": {"type": "text", "color": "#333333", "fontSize": 12, "baseline": "alphabetic", "dy": -6},
    "encoding": {
     "x": {"field": "g1", "type": "nominal", "title": "(b)", "scale": {"domain": ["Full-length", "Multiplex", "V3V4"], "paddingInner": 0.3, "paddingOuter": 0.25}},
     "xOffset": {"field": "mid", "type": "quantitative", "scale": {"domain": [-0.35, 0.35]}},
     "y": {"field": "yt", "type": "quantitative", "title": "Evenness Pielou Index", "scale": {"domain": [0.514, 0.989], "nice": false, "zero": false}},
     "text": {"field": "lab"}}}
  ]
 }
]
}
